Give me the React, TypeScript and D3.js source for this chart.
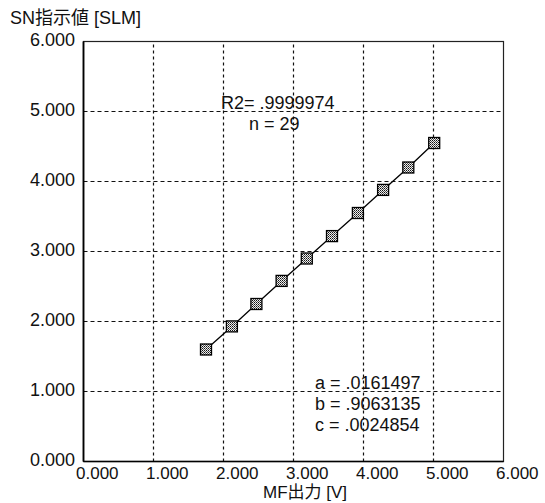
import React from "react";
import { scaleLinear, line, range } from "d3";

// values
const mfOutput = [1.75, 2.12, 2.47, 2.83, 3.19, 3.55, 3.92, 4.28, 4.64, 5.01];
const snValue = [1.6, 1.93, 2.25, 2.58, 2.9, 3.22, 3.55, 3.88, 4.2, 4.55];
const tickValues = [0, 1, 2, 3, 4, 5, 6];
const fitLines = ["a = .0161497", "b = .9063135", "c = .0024854"];
const statLines = ["R2= .9999974", "n = 29"];

const W = 545;
const H = 503;
const margin = { left: 83.5, right: 41.5, top: 41.5, bottom: 41.5 };
const font = "'Liberation Sans', Arial, 'Noto Sans CJK JP', sans-serif";
const fs = 18;

const App = () => {
  const x = scaleLinear()
    .domain([0, 6])
    .range([margin.left, W - margin.right]);
  const y = scaleLinear()
    .domain([0, 6])
    .range([H - margin.bottom, margin.top]);

  const pts = mfOutput.map((d, i) => [d, snValue[i]]);
  const path = line()
    .x((d) => x(d[0]))
    .y((d) => y(d[1]))(pts);

  const fmt = (v) => v.toFixed(3);

  return (
    <svg
      width={W}
      height={H}
      style={{ position: "absolute", left: 0, top: 0, background: "#fff" }}
      fontFamily={font}
    >
      <defs>
        <pattern id="hatch" width="2" height="2" patternUnits="userSpaceOnUse">
          <rect width="2" height="2" fill="#eee" />
          <rect width="1" height="1" fill="#111" />
          <rect x="1" y="1" width="1" height="1" fill="#555" />
        </pattern>
      </defs>

      {/* grid */}
      {range(1, 6).map((t) => (
        <g key={t}>
          <line
            x1={x(t)}
            x2={x(t)}
            y1={y(0)}
            y2={y(6)}
            stroke="#111"
            strokeWidth={1.2}
            strokeDasharray="3,3"
          />
          <line
            x1={x(0)}
            x2={x(6)}
            y1={y(t)}
            y2={y(t)}
            stroke="#111"
            strokeWidth={1.2}
            strokeDasharray="4,3"
          />
        </g>
      ))}

      {/* frame */}
      <rect
        x={x(0)}
        y={y(6)}
        width={x(6) - x(0)}
        height={y(0) - y(6)}
        fill="none"
        stroke="#222"
        strokeWidth={1.2}
      />
      <line x1={x(0)} x2={x(0)} y1={y(0)} y2={y(6)} stroke="#000" strokeWidth={1.8} />
      <line x1={x(0)} x2={x(6)} y1={y(0)} y2={y(0)} stroke="#000" strokeWidth={1.6} />

      {/* y ticks */}
      {tickValues.map((t) => (
        <text
          key={"y" + t}
          x={x(0) - 8.5}
          y={y(t) + 4}
          textAnchor="end"
          fontSize={fs}
          fill="#111"
        >
          {fmt(t)}
        </text>
      ))}

      {/* x ticks */}
      {tickValues.map((t) => (
        <text key={"x" + t} x={x(t) - 7.5} y={y(0) + 17} fontSize={17} fill="#111">
          {fmt(t)}
        </text>
      ))}

      <text x={10} y={24} fontSize={fs} fill="#111">
        SN指示値 [SLM]
      </text>
      <text x={305} y={H - 5} textAnchor="middle" fontSize={17} fill="#111">
        MF出力 [V]
      </text>

      {/* fit curve and points */}
      <path d={path} fill="none" stroke="#000" strokeWidth={1.3} />
      {pts.map((d, i) => (
        <rect
          key={i}
          x={x(d[0]) - 5.5}
          y={y(d[1]) - 5.5}
          width={11}
          height={11}
          fill="url(#hatch)"
          stroke="#000"
          strokeWidth={1.3}
        />
      ))}

      {statLines.map((s, i) => (
        <text
          key={s}
          x={i === 0 ? 221 : 249}
          y={109 + i * 21}
          fontSize={fs}
          fill="#111"
        >
          {s}
        </text>
      ))}

      {fitLines.map((s, i) => (
        <text key={s} x={315} y={389 + i * 21} fontSize={fs} fill="#111">
          {s}
        </text>
      ))}
    </svg>
  );
};

export default App;
